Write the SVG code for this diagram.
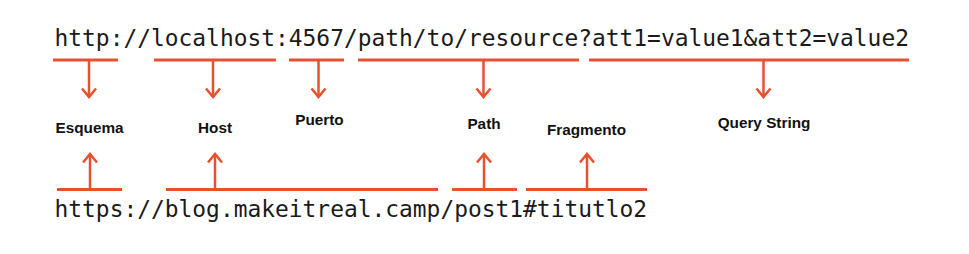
<svg xmlns="http://www.w3.org/2000/svg" width="969" height="254" viewBox="0 0 969 254">
<style>
.url{font-family:"DejaVu Sans Mono","Liberation Mono",monospace;font-size:22.9px;fill:#1a1a1a}
.lbl{font-family:"Liberation Sans",Arial,sans-serif;font-size:15.3px;font-weight:bold;fill:#111;text-anchor:middle}
.ul{stroke:#E8502E;stroke-width:3;fill:none}
.ar{stroke:#E8502E;stroke-width:2.5;fill:none;marker-end:url(#chev)}
</style>
<defs>
<marker id="chev" markerUnits="userSpaceOnUse" viewBox="-10 -9 12 18" refX="0" refY="0" markerWidth="12" markerHeight="18" orient="auto">
<path d="M-8.5,-7 L0,0 L-8.5,7" fill="none" stroke="#E8502E" stroke-width="2.5"/>
</marker>
</defs>
<rect width="969" height="254" fill="#fff"/>
<g id="url-top"><text class="url" x="54.5" y="46">http://localhost:4567/path/to/resource?att1=value1&amp;att2=value2</text></g>
<g id="url-bottom"><text class="url" x="54.5" y="217">https://blog.makeitreal.camp/post1#titutlo2</text></g>
<g id="connectors">
<path class="ul" d="M53,60H118M154,60H276M289,60H344M358,60H579M589,60H909"/>
<path class="ul" d="M57,189.5H122M166,189.5H438M452,189.5H517M526,189.5H647"/>
<path class="ar" d="M89,61V97"/>
<path class="ar" d="M213,61V97"/>
<path class="ar" d="M318.5,61V97"/>
<path class="ar" d="M483.5,61V97"/>
<path class="ar" d="M763.5,61V97"/>
<path class="ar" d="M90,188V154"/>
<path class="ar" d="M215,188V154"/>
<path class="ar" d="M484,188V154"/>
<path class="ar" d="M587,188V154"/>
</g>
<g id="esquema"><text class="lbl" x="89.5" y="132.5">Esquema</text></g>
<g id="host"><text class="lbl" x="215" y="132.5">Host</text></g>
<g id="puerto"><text class="lbl" x="319.5" y="125">Puerto</text></g>
<g id="path"><text class="lbl" x="484" y="128.5">Path</text></g>
<g id="fragmento"><text class="lbl" x="586.5" y="134.5">Fragmento</text></g>
<g id="query"><text class="lbl" x="764" y="127.5">Query String</text></g>
</svg>
